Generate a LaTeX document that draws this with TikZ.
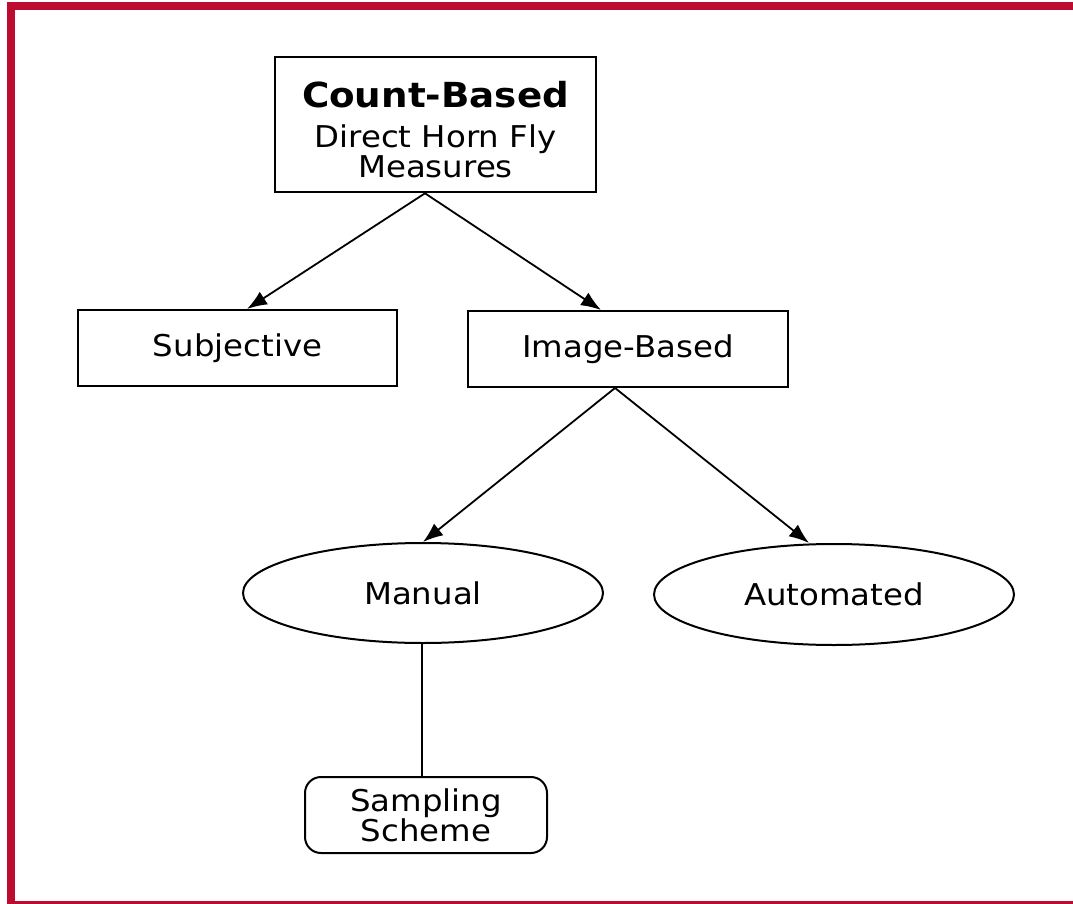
\documentclass[tikz,border=0pt]{standalone}
\usepackage{fontspec}
\setmainfont[FakeStretch=1.08]{DejaVu Sans}
\usetikzlibrary{arrows.meta,shapes.geometric}
\definecolor{frame}{RGB}{188,12,48}
\begin{document}
\begin{tikzpicture}[x=1pt,y=-1pt,
  box/.style={draw=black,line width=2pt,minimum width=320pt,minimum height=76pt,inner sep=0pt,
    font=\fontsize{30}{30}\selectfont,align=center},
  oval/.style={draw=black,ellipse,line width=2pt,minimum width=360pt,minimum height=100pt,inner sep=0pt,
    font=\fontsize{30}{30}\selectfont},
  rbox/.style={draw=black,line width=2pt,rounded corners=16pt,minimum width=242pt,minimum height=76pt,
    inner sep=0pt,font=\fontsize{30}{30}\selectfont,align=center},
  arr/.style={line width=1.8pt,-{Latex[length=20pt,width=15pt]}},
  conn/.style={line width=1.8pt}]
\useasboundingbox (0,0) rectangle (1073,904);
\fill[frame] (7,2) rectangle (1073,10);
\fill[frame] (7,2) rectangle (15,904);
\fill[frame] (7,901) rectangle (1073,904);

\node[box,line width=2.6pt,minimum width=321pt,minimum height=135pt] (count) at (435.5,124.5)
  {\rule{0pt}{36pt}{\fontsize{34.5}{34}\selectfont\bfseries Count-Based}\\[10pt]Direct Horn Fly\\Measures};
\node[box,minimum width=319pt] (subj) at (237.5,348) {Subjective};
\node[box] (img) at (628,349) {Image-Based};
\node[oval] (man) at (423,593) {Manual};
\node[oval,minimum height=101pt] (auto) at (834,594.5) {Automated};
\node[rbox] (samp) at (426,815) {Sampling\\Scheme};

\draw[arr] ([xshift=-10.5pt]count.south) -- ([xshift=9.5pt]subj.north);
\draw[arr] ([xshift=-10.5pt]count.south) -- ([xshift=-27pt]img.north);
\draw[arr] ([xshift=-13pt]img.south) -- (man.north);
\draw[arr] ([xshift=-13pt]img.south) -- ([xshift=-25pt]auto.north);
\draw[conn] ([xshift=-1pt]man.south) -- ([xshift=-4pt]samp.north);
\end{tikzpicture}
\end{document}
